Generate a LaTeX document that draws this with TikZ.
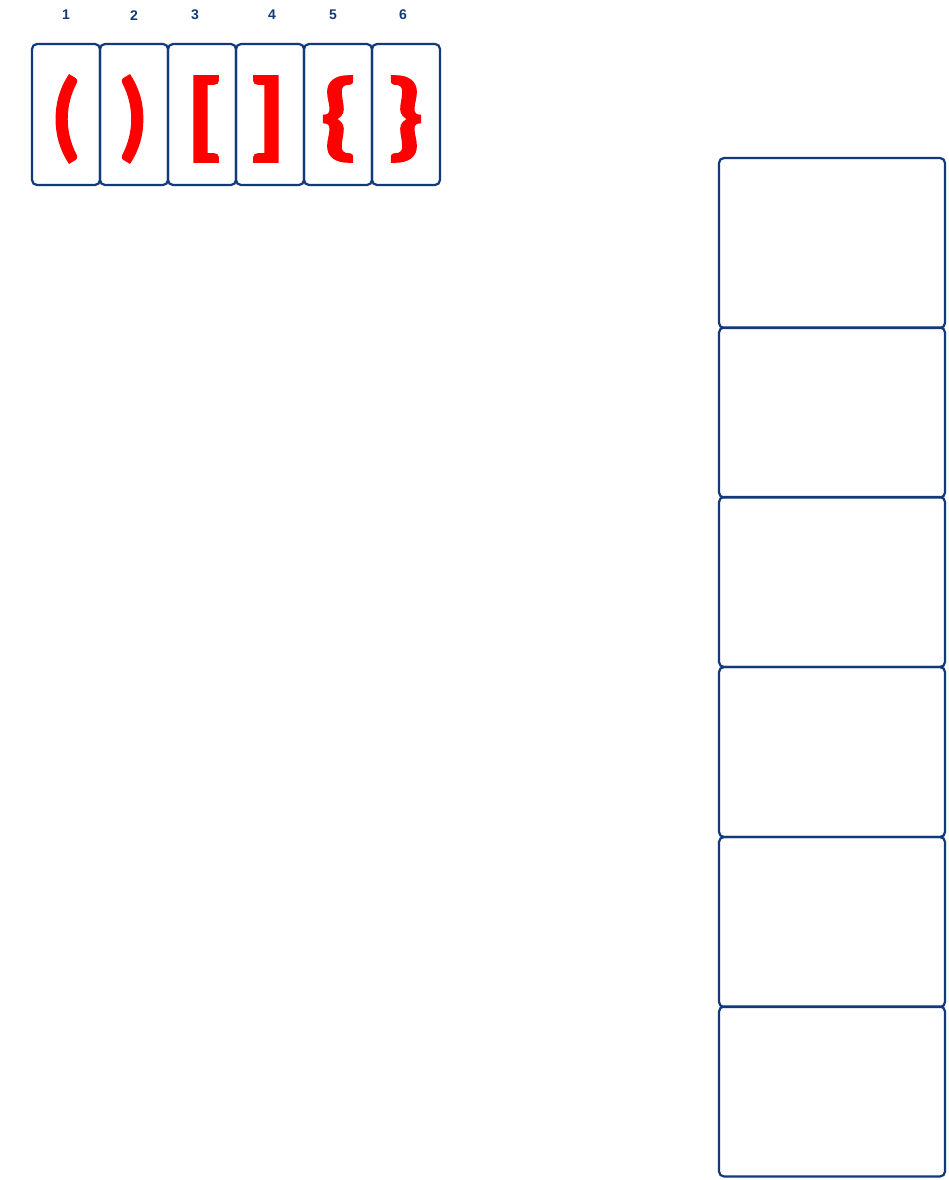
\documentclass[tikz,border=0pt]{standalone}
\usepackage{fontspec}
\setmainfont{Liberation Sans}
\newfontfamily\brkfont[BoldFeatures={FakeBold=2.5}]{Lato}
\begin{document}
\begin{tikzpicture}[x=1pt,y=-1pt,
  box/.style={draw=navy,line width=2.2pt,rounded corners=5pt,inner sep=0pt,outer sep=0pt},
  cell/.style={box,minimum width=68pt,minimum height=141pt},
  panel/.style={box,minimum width=226pt,minimum height=170pt},
  num/.style={text=navy,font=\fontsize{14}{14}\selectfont\bfseries,inner sep=0pt},
  brk/.style={text=red,font=\brkfont\fontsize{92}{92}\selectfont\bfseries,inner sep=0pt},
  wbrk/.style={brk,xscale=1.2}]
\definecolor{navy}{HTML}{12397A}
\useasboundingbox (0,0) rectangle (949,1180);
% top cells
\node[cell] (c1) at (66,114.5) {};
\node[cell] (c2) at (134,114.5) {};
\node[cell] (c3) at (202,114.5) {};
\node[cell] (c4) at (270,114.5) {};
\node[cell] (c5) at (338,114.5) {};
\node[cell] (c6) at (406,114.5) {};
% numbers
\node[num] (n1) at (66,15) {1};
\node[num] (n2) at (134,16) {2};
\node[num] (n3) at (195,15) {3};
\node[num] (n4) at (272,15) {4};
\node[num] (n5) at (333,15) {5};
\node[num] (n6) at (403,15) {6};
% brackets
\node[brk] (b1) at (66,119) {(};
\node[brk] (b2) at (133,119) {)};
\node[wbrk] (b3) at (203,119) {[};
\node[wbrk] (b4) at (269,119) {]};
\node[wbrk] (b5) at (338,119) {\{};
\node[wbrk] (b6) at (406,119) {\}};
% right panels
\node[panel] (p1) at (832,243) {};
\node[panel] (p2) at (832,412.5) {};
\node[panel] (p3) at (832,582) {};
\node[panel] (p4) at (832,752) {};
\node[panel] (p5) at (832,922) {};
\node[panel] (p6) at (832,1091.5) {};
\end{tikzpicture}
\end{document}
